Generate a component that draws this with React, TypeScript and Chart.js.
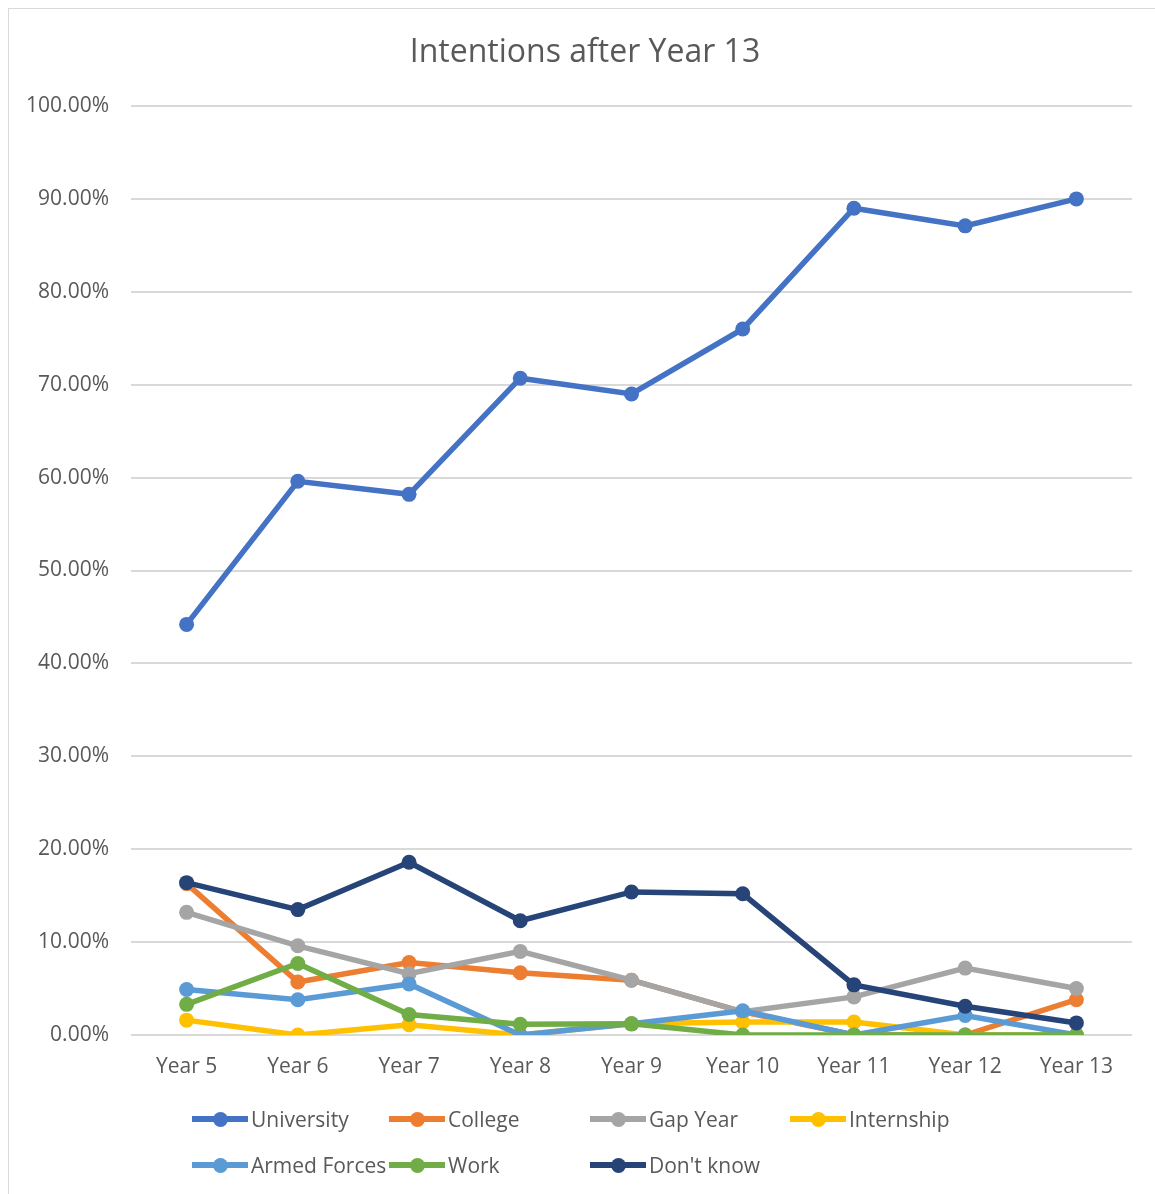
import React, { useEffect, useRef } from "react";
import { Chart, registerables } from "chart.js";

Chart.register(...registerables);

// Survey categories and the share of pupils (in %) choosing each intention
const years = ["Year 5", "Year 6", "Year 7", "Year 8", "Year 9", "Year 10", "Year 11", "Year 12", "Year 13"];
const university = [44.2, 59.6, 58.2, 70.7, 69.0, 76.0, 89.0, 87.1, 90.0];
const college = [16.3, 5.7, 7.8, 6.7, 5.9, 2.5, 0, 0, 3.8];
const gapYear = [13.2, 9.6, 6.6, 9.0, 5.9, 2.5, 4.1, 7.2, 5.0];
const internship = [1.6, 0, 1.1, 0, 1.2, 1.4, 1.4, 0, 0];
const armedForces = [4.9, 3.8, 5.5, 0, 1.2, 2.6, 0, 2.1, 0];
const work = [3.3, 7.7, 2.2, 1.15, 1.2, 0, 0, 0, 0];
const dontKnow = [16.4, 13.5, 18.6, 12.3, 15.4, 15.2, 5.4, 3.1, 1.3];

const seriesNames = ["University", "College", "Gap Year", "Internship", "Armed Forces", "Work", "Don't know"];
const seriesColors = ["#4472C4", "#ED7D31", "#A5A5A5", "#FFC000", "#5B9BD5", "#70AD47", "#264478"];
const seriesValues = [university, college, gapYear, internship, armedForces, work, dontKnow];

const yTicks = { min: 0, max: 100, step: 10 };

const TITLE = "Intentions after Year 13";
const FONT = "'Open Sans', sans-serif";
const TEXT = "#595959";

// legend grid: 4 columns, 2 rows
const legendCols = [184, 381, 582, 782];
const legendRows = [1111, 1157];

export default function App() {
  const canvasRef = useRef<HTMLCanvasElement | null>(null);

  useEffect(() => {
    if (!canvasRef.current) return;
    const n = seriesNames.length;
    const chart = new Chart(canvasRef.current, {
      type: "line",
      data: {
        labels: years,
        datasets: seriesNames.map((name, i) => ({
          label: name,
          data: seriesValues[i],
          borderColor: seriesColors[i],
          backgroundColor: seriesColors[i],
          borderWidth: 5.5,
          pointRadius: 7.5,
          pointBorderWidth: 0,
          pointBackgroundColor: seriesColors[i],
          tension: 0,
          order: n - 1 - i,
        })),
      },
      options: {
        responsive: false,
        animation: false,
        layout: { padding: { left: 0, right: 23, top: 98, bottom: 99 } },
        plugins: {
          legend: { display: false },
          tooltip: { enabled: false },
          title: { display: false },
        },
        scales: {
          x: {
            offset: true,
            grid: { display: false, drawTicks: false },
            border: { display: false },
            ticks: {
              color: TEXT,
              font: { family: FONT, size: 21 },
              padding: 19,
              maxRotation: 0,
            },
            afterFit: (scale: any) => {
              scale.height = 60;
            },
          },
          y: {
            min: yTicks.min,
            max: yTicks.max,
            grid: { color: "#d9d9d9", lineWidth: 2, drawTicks: false },
            border: { display: false },
            ticks: {
              stepSize: yTicks.step,
              color: TEXT,
              font: { family: FONT, size: 21 },
              padding: 22,
              callback: (v: any) => Number(v).toFixed(2) + "%",
            },
            afterFit: (scale: any) => {
              scale.width = 123;
            },
          },
        },
      },
    });
    return () => chart.destroy();
  }, []);

  return (
    <div
      style={{
        position: "fixed",
        left: 8,
        top: 8,
        right: 0,
        bottom: 0,
        borderLeft: "1px solid #d9d9d9",
        borderTop: "1px solid #d9d9d9",
        overflow: "hidden",
      }}
    >
      <canvas ref={canvasRef} width={1147} height={1186} style={{ position: "absolute", left: -1, top: -1 }} />
      <div
        style={{
          position: "absolute",
          left: 0,
          top: 22,
          width: 1152,
          textAlign: "center",
          fontFamily: FONT,
          fontSize: 32,
          lineHeight: "38px",
          color: TEXT,
          whiteSpace: "nowrap",
        }}
      >
        {TITLE}
      </div>
      {seriesNames.map((name, i) => (
        <div
          key={name}
          style={{
            position: "absolute",
            left: legendCols[i % 4] - 1,
            top: legendRows[Math.floor(i / 4)] - 1 - 14,
            height: 28,
            display: "flex",
            alignItems: "center",
            fontFamily: FONT,
            fontSize: 21,
            color: TEXT,
            whiteSpace: "nowrap",
          }}
        >
          <span style={{ position: "relative", width: 56, height: 28, marginRight: 3, display: "inline-block" }}>
            <span
              style={{
                position: "absolute",
                left: 0,
                top: 11,
                width: 56,
                height: 6,
                background: seriesColors[i],
              }}
            />
            <span
              style={{
                position: "absolute",
                left: 20.5,
                top: 6.5,
                width: 15,
                height: 15,
                borderRadius: "50%",
                background: seriesColors[i],
              }}
            />
          </span>
          {name}
        </div>
      ))}
    </div>
  );
}
